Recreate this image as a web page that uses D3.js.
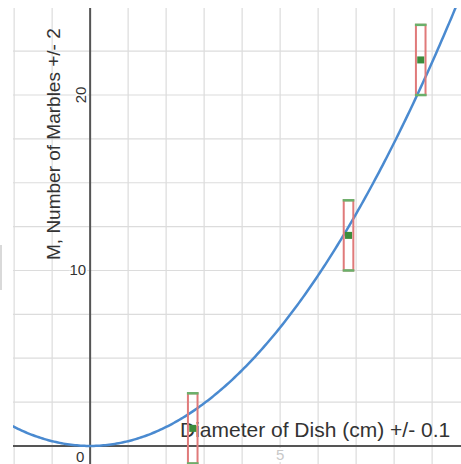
<!DOCTYPE html>
<html>
<head>
<meta charset="utf-8">
<script src="https://cdn.jsdelivr.net/npm/d3@7"></script>
<style>
  body { margin: 0; background: #fff; }
  svg { display: block; font-family: "Liberation Sans", Arial, sans-serif; }
</style>
</head>
<body>
<svg id="chart" width="461" height="464"></svg>
<script>
// measured points: D (cm) vs M (marbles)
const dishDiameter = [2.7, 6.8, 8.7];
const marbleCount = [1, 12, 22];
const xError = 0.1;
const yError = 2;
// fitted model M = k * D^2
const fitCoef = 0.27;
const xGrid = d3.range(-2, 10, 1);
const yGrid = d3.range(0, 25, 2.5);
const xTickLabels = [0, 5];
const yTickLabels = [10, 20];

const width = 461, height = 464;
const plot = { left: 13, right: 461, top: 8, bottom: 464 };

const svg = d3.select('#chart');

const x = d3.scaleLinear().domain([-2.03, 9.76]).range([plot.left, plot.right]);
const y = d3.scaleLinear().domain([-1.03, 24.96]).range([plot.bottom, plot.top]);

svg.append('clipPath').attr('id', 'clip')
  .append('rect')
  .attr('x', plot.left).attr('y', plot.top)
  .attr('width', plot.right - plot.left).attr('height', plot.bottom - plot.top);

const g = svg.append('g').attr('clip-path', 'url(#clip)');

// grid
g.selectAll('.vgrid').data(xGrid).join('line')
  .attr('x1', d => x(d)).attr('x2', d => x(d))
  .attr('y1', plot.top).attr('y2', plot.bottom)
  .attr('stroke', '#dcdcdc').attr('stroke-width', 1.2);
g.selectAll('.hgrid').data(yGrid).join('line')
  .attr('x1', plot.left).attr('x2', plot.right)
  .attr('y1', d => y(d)).attr('y2', d => y(d))
  .attr('stroke', '#dcdcdc').attr('stroke-width', 1.2);

// axes
g.append('line')
  .attr('x1', x(0)).attr('x2', x(0)).attr('y1', plot.top).attr('y2', plot.bottom)
  .attr('stroke', '#555').attr('stroke-width', 2);
g.append('line')
  .attr('x1', plot.left).attr('x2', plot.right).attr('y1', y(0)).attr('y2', y(0))
  .attr('stroke', '#555').attr('stroke-width', 2);

// tick labels
svg.append('text')
  .attr('x', x(0) - 10).attr('y', 462)
  .attr('text-anchor', 'middle')
  .attr('font-size', 15).attr('fill', '#333')
  .text(xTickLabels[0]);
svg.append('text')
  .attr('x', x(xTickLabels[1])).attr('y', 460)
  .attr('text-anchor', 'middle')
  .attr('font-size', 15).attr('fill', '#c8c8c8')
  .attr('stroke', '#fff').attr('stroke-width', 4).attr('paint-order', 'stroke')
  .text(xTickLabels[1]);
svg.append('text')
  .attr('x', x(0) - 4).attr('y', y(yTickLabels[0]) + 5)
  .attr('text-anchor', 'end')
  .attr('font-size', 15).attr('fill', '#333')
  .attr('stroke', '#fff').attr('stroke-width', 3).attr('paint-order', 'stroke')
  .text(yTickLabels[0]);
svg.append('text')
  .attr('transform', `translate(${x(0) - 4}, ${y(yTickLabels[1])}) rotate(-90)`)
  .attr('text-anchor', 'middle')
  .attr('font-size', 15).attr('fill', '#333')
  .attr('stroke', '#fff').attr('stroke-width', 3).attr('paint-order', 'stroke')
  .text(yTickLabels[1]);

// axis titles
svg.append('text')
  .attr('transform', 'translate(60, 260) rotate(-90)')
  .attr('font-size', 19).attr('fill', '#333')
  .text('M, Number of Marbles +/- 2');

// fitted curve
const curveXs = d3.range(-2.05, 9.8, 0.05);
g.append('path')
  .datum(curveXs)
  .attr('d', d3.line().x(d => x(d)).y(d => y(fitCoef * d * d)))
  .attr('fill', 'none')
  .attr('stroke', '#4a8ad0')
  .attr('stroke-width', 2.5);

svg.append('text')
  .attr('x', 180).attr('y', 437)
  .attr('font-size', 21).attr('fill', '#333')
  .text('Diameter of Dish (cm) +/- 0.1');

// error boxes
const pts = dishDiameter.map((d, i) => ({ d: d, m: marbleCount[i] }));
const bars = svg.append('g').selectAll('g').data(pts).join('g');
bars.append('rect')
  .attr('x', p => x(p.d - xError) - 1)
  .attr('y', p => y(p.m + yError))
  .attr('width', p => x(p.d + xError) - x(p.d - xError) + 2)
  .attr('height', p => y(p.m - yError) - y(p.m + yError))
  .attr('fill', 'none')
  .attr('stroke', '#e07a7a')
  .attr('stroke-width', 2);
bars.selectAll('.cap').data(p => [p.m - yError, p.m + yError].map(v => ({ d: p.d, v: v })))
  .join('line')
  .attr('x1', c => x(c.d - xError) - 2).attr('x2', c => x(c.d + xError) + 2)
  .attr('y1', c => y(c.v)).attr('y2', c => y(c.v))
  .attr('stroke', '#6ab06a').attr('stroke-width', 2.5);
bars.append('rect')
  .attr('x', p => x(p.d) - 3.5).attr('y', p => y(p.m) - 3.5)
  .attr('width', 7).attr('height', 7)
  .attr('fill', '#3c8c3c');

// stray border mark at left edge
svg.append('line')
  .attr('x1', 1).attr('x2', 1).attr('y1', 245).attr('y2', 290)
  .attr('stroke', '#ccc').attr('stroke-width', 1.5);
</script>
</body>
</html>
